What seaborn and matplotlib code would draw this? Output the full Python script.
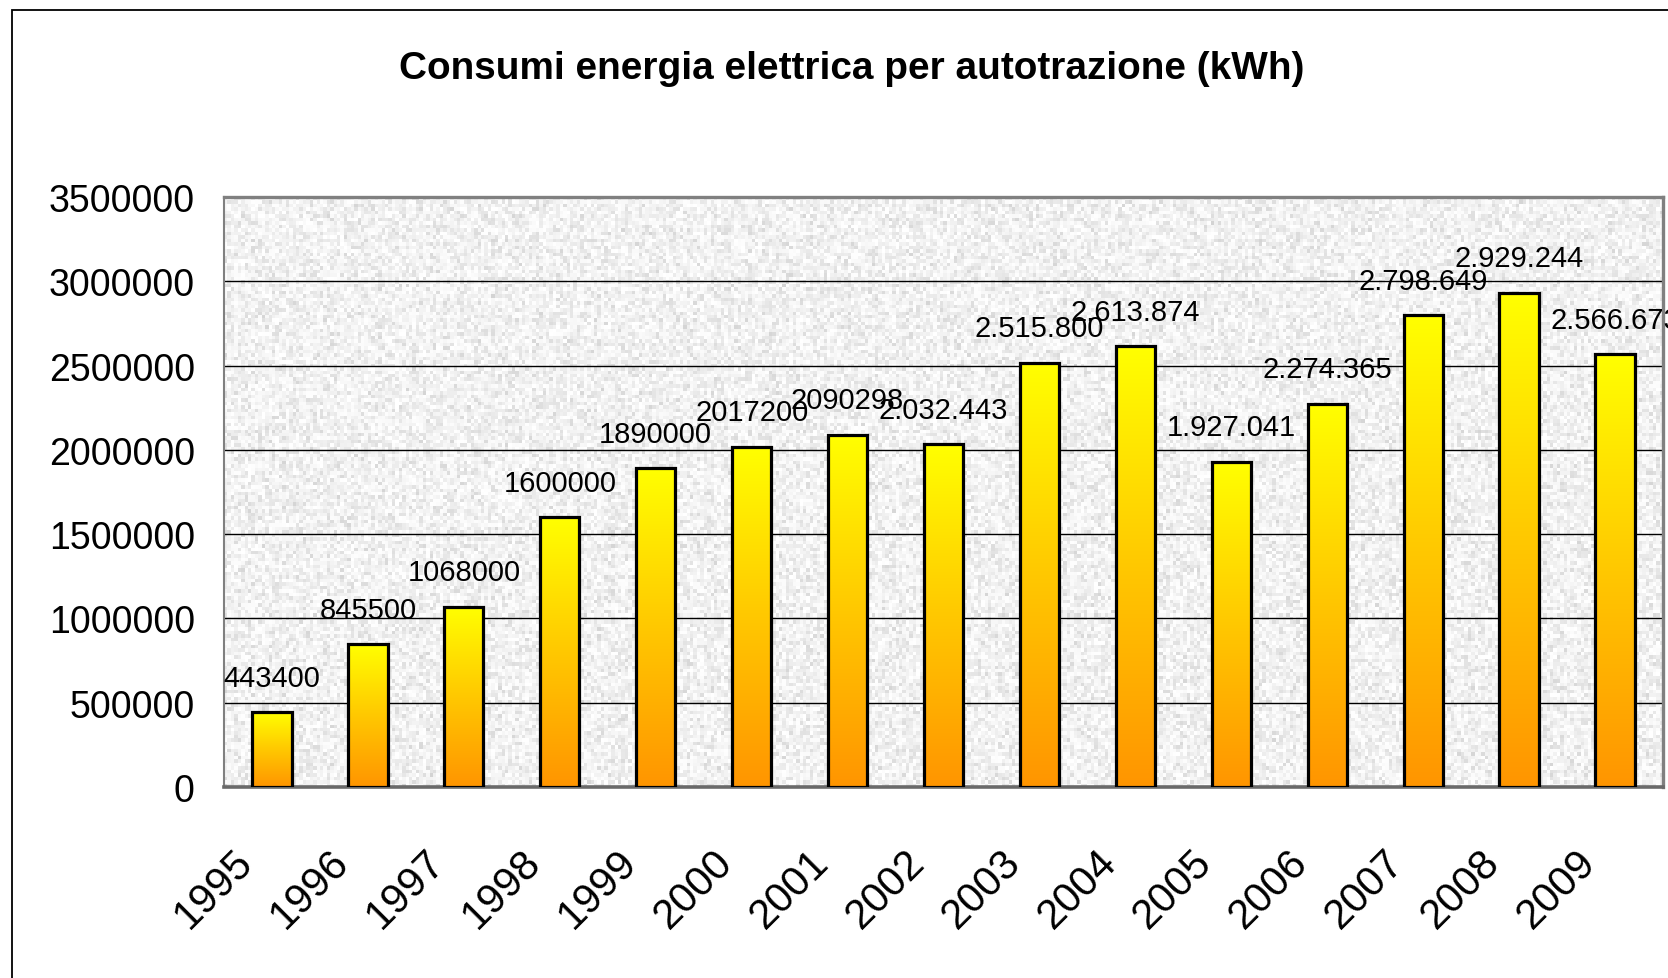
import matplotlib
matplotlib.use("Agg")
import numpy as np
import pandas as pd
import seaborn as sns
import matplotlib.pyplot as plt
import matplotlib.transforms as mtransforms
from matplotlib import font_manager
from matplotlib.colors import LinearSegmentedColormap
from matplotlib.patches import Rectangle

# ---- data ----
years = ["1995", "1996", "1997", "1998", "1999", "2000", "2001", "2002",
         "2003", "2004", "2005", "2006", "2007", "2008", "2009"]
values = [443400, 845500, 1068000, 1600000, 1890000, 2017200, 2090298, 2032443,
          2515800, 2613874, 1927041, 2274365, 2798649, 2929244, 2566673]
value_labels = ["443400", "845500", "1068000", "1600000", "1890000", "2017200",
                "2090298", "2.032.443", "2.515.800", "2.613.874", "1.927.041",
                "2.274.365", "2.798.649", "2.929.244", "2.566.673"]
ytick_values = [0, 500000, 1000000, 1500000, 2000000, 2500000, 3000000, 3500000]
ytick_labels = ["0", "500000", "1000000", "1500000", "2000000", "2500000",
                "3000000", "3500000"]
title = "Consumi energia elettrica per autotrazione (kWh)"

sns.set_style("white")
plt.rcParams['font.family'] = ['Liberation Sans', 'DejaVu Sans']
for k in ["text.color", "axes.labelcolor", "xtick.color", "ytick.color"]:
    plt.rcParams[k] = "black"

installed = {f.name for f in font_manager.fontManager.ttflist}
title_family = ['Liberation Sans Narrow', 'Liberation Sans'] if 'Liberation Sans Narrow' in installed \
    else ['Liberation Sans', 'DejaVu Sans']

W, H = 1668, 979
fig = plt.figure(figsize=(W / 100, H / 100), dpi=100)
left, right, top, bottom = 224, 1663, 198, 788
ax = fig.add_axes([left / W, 1 - bottom / H, (right - left) / W, (bottom - top) / H])

df = pd.DataFrame({"Anno": years, "kWh": values})
sns.barplot(data=df, x="Anno", y="kWh", ax=ax, width=0.41, color="#FFCC00",
            edgecolor="black", linewidth=2.3, zorder=3)

# per-bar vertical gradient (orange bottom -> yellow top)
cmap = LinearSegmentedColormap.from_list("yo", ["#FF9500", "#FFC800", "#FFFF00"])
grad = np.linspace(0, 1, 256).reshape(-1, 1)
for p in ax.patches:
    x0, y0 = p.get_x(), p.get_y()
    w, h = p.get_width(), p.get_height()
    im = ax.imshow(grad, extent=[x0, x0 + w, y0, y0 + h], origin="lower",
                   cmap=cmap, aspect="auto", zorder=2.9, interpolation="bilinear")
    im.set_clip_path(p)
    p.set_facecolor("none")

# textured grey background (deterministic hash pattern)
ny, nx = 170, 420
jj, ii = np.meshgrid(np.arange(nx), np.arange(ny))
hsh = np.sin(ii * 12.9898 + jj * 78.233) * 43758.5453
hsh = hsh - np.floor(hsh)
tex = 0.83 + 0.17 * np.sqrt(hsh)
ax.imshow(tex, extent=[-0.5, 14.5, 0, 3500000], origin="lower", cmap="gray",
          vmin=0, vmax=1, aspect="auto", zorder=0.1, interpolation="nearest")

ax.set_xlim(-0.5, 14.5)
ax.set_ylim(0, 3500000)
ax.set_xlabel("")
ax.set_ylabel("")

ax.set_yticks(ytick_values)
ax.set_yticklabels(ytick_labels)
ax.yaxis.grid(True, color="black", linewidth=1.0, zorder=0.5)
ax.xaxis.grid(False)
ax.set_axisbelow(True)

# x ticks: labels at centres, tick marks at category boundaries
ax.set_xticks(np.arange(len(years)))
ax.set_xticklabels(years)
ax.set_xticks(np.arange(len(years) + 1) - 0.5, minor=True)
ax.tick_params(axis="x", which="major", length=0, pad=39, labelsize=30)
ax.tick_params(axis="x", which="minor", length=11, width=1.0, color="#606060")
offset = mtransforms.ScaledTranslation(-11 / 100, 0, fig.dpi_scale_trans)
for lab in ax.get_xticklabels():
    lab.set_rotation(45)
    lab.set_ha("right")
    lab.set_va("top")
    lab.set_transform(lab.get_transform() + offset)

ax.tick_params(axis="y", length=8, width=1.2, color="#707070", pad=13, labelsize=27)

for s in ["top", "right"]:
    ax.spines[s].set_color("#808080")
    ax.spines[s].set_linewidth(2.4)
ax.spines["left"].set_color("#808080")
ax.spines["left"].set_linewidth(1.5)
ax.spines["bottom"].set_color("#6a6a6a")
ax.spines["bottom"].set_linewidth(2.6)

# data labels above bars
for i, (v, lab) in enumerate(zip(values, value_labels)):
    ax.annotate(lab, (i, v), xytext=(0, 25), textcoords="offset points",
                ha="center", va="center", fontsize=21, color="black",
                annotation_clip=False, zorder=5)

t = fig.text(852 / W, 1 - 69 / H, title, ha="center", va="center",
             fontsize=30, fontweight="bold", family=title_family, color="black")
# fit title width to the reference (~904 px)
fig.canvas.draw()
wpx = t.get_window_extent().width
t.set_fontsize(30 * 904 / wpx)

# outer chart border
fig.add_artist(Rectangle((12 / W, -0.05), 1.2, 1.05 - 11 / H,
                         transform=fig.transFigure, fill=False,
                         edgecolor="black", linewidth=1.3))

fig.savefig("out.png", dpi=100)
